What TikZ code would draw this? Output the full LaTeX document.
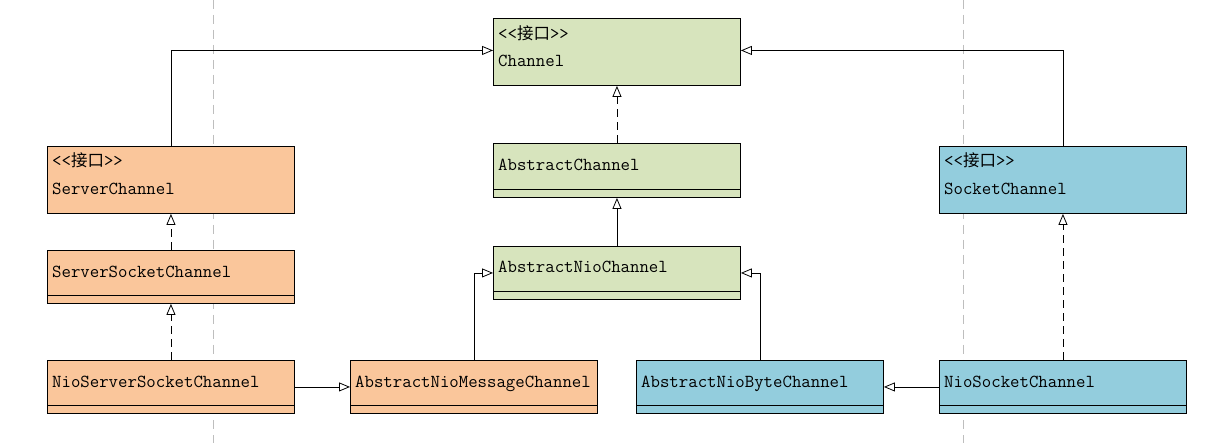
\documentclass[tikz,border=0pt]{standalone}
\usepackage{fontspec}
\newfontfamily\cjk{Noto Sans CJK SC}
\usetikzlibrary{arrows.meta,calc}

\definecolor{ifgreen}{RGB}{215,228,189}
\definecolor{ifpeach}{RGB}{250,198,155}
\definecolor{ifblue}{RGB}{147,205,221}
\definecolor{guidegray}{RGB}{190,190,190}

\newcommand{\stereo}{{<}{<}{\cjk\fontsize{16.5}{16.5}\selectfont 接口}{>}{>}}

\tikzset{
  cls/.style={draw=black, line width=0.9pt, rectangle, inner sep=0pt,
              anchor=north west, minimum width=247pt},
  lbl/.style={anchor=base west, inner sep=0pt,
              font=\ttfamily\fontsize{18.3}{18.3}\selectfont},
  inherit/.style={-{Triangle[open,length=11pt,width=9pt]}, line width=0.8pt},
  realize/.style={inherit, dash pattern=on 8pt off 5pt},
  guide/.style={draw=guidegray, dash pattern=on 9pt off 6pt, line width=0.8pt}
}

\begin{document}
\begin{tikzpicture}[x=1pt, y=-1pt]
  \useasboundingbox (0,0) rectangle (1215,443);
  \fill[white] (0,0) rectangle (1215,443);

  % vertical guide lines behind the boxes
  \coordinate (gAtop) at (213,0);
  \coordinate (gAbot) at (213,443);
  \coordinate (gBtop) at (963,0);
  \coordinate (gBbot) at (963,443);
  \draw[guide] (gAtop) -- (gAbot);
  \draw[guide] (gBtop) -- (gBbot);

  % boxes
  \node[cls, fill=ifgreen, minimum height=67pt] (chan)   at (493,18)  {};
  \node[cls, fill=ifgreen, minimum height=54pt] (absch)  at (493,143) {};
  \node[cls, fill=ifgreen, minimum height=53pt] (absnio) at (493,246) {};

  \node[cls, fill=ifpeach, minimum height=67pt] (srvch)  at (47,146)  {};
  \node[cls, fill=ifpeach, minimum height=53pt] (ssch)   at (47,250)  {};
  \node[cls, fill=ifpeach, minimum height=53pt] (nssch)  at (47,360)  {};
  \node[cls, fill=ifpeach, minimum height=53pt] (anmc)   at (350,360) {};

  \node[cls, fill=ifblue,  minimum height=53pt] (anbc)   at (636,360) {};
  \node[cls, fill=ifblue,  minimum height=53pt] (nsc)    at (939,360) {};
  \node[cls, fill=ifblue,  minimum height=67pt] (sockch) at (939,146) {};

  % compartment separators
  \foreach \n in {absch,absnio,ssch,nssch,anmc,anbc,nsc}
    \draw[line width=0.9pt] ($(\n.south west)+(0,-8)$) -- ($(\n.south east)+(0,-8)$);

  % labels
  \node[lbl] (tchanS)  at ($(chan.north west)+(5,22)$)   {\stereo};
  \node[lbl] (tchan)   at ($(chan.north west)+(5,49)$)   {Channel};
  \node[lbl] (tabsch)  at ($(absch.north west)+(5,28)$)  {AbstractChannel};
  \node[lbl] (tabsnio) at ($(absnio.north west)+(5,27)$) {AbstractNioChannel};
  \node[lbl] (tsrvS)   at ($(srvch.north west)+(5,21)$)  {\stereo};
  \node[lbl] (tsrv)    at ($(srvch.north west)+(5,49)$)  {ServerChannel};
  \node[lbl] (tssch)   at ($(ssch.north west)+(5,28)$)   {ServerSocketChannel};
  \node[lbl] (tnssch)  at ($(nssch.north west)+(5,27)$)  {NioServerSocketChannel};
  \node[lbl] (tanmc)   at ($(anmc.north west)+(5,27)$)   {AbstractNioMessageChannel};
  \node[lbl] (tanbc)   at ($(anbc.north west)+(5,27)$)   {AbstractNioByteChannel};
  \node[lbl] (tnsc)    at ($(nsc.north west)+(5,27)$)    {NioSocketChannel};
  \node[lbl] (tsockS)  at ($(sockch.north west)+(5,21)$) {\stereo};
  \node[lbl] (tsock)   at ($(sockch.north west)+(5,49)$) {SocketChannel};

  % generalisation and realisation connectors
  \draw[inherit] (srvch.north) |- ($(chan.west)+(0,-1.5)$);
  \draw[inherit] (sockch.north) |- ($(chan.east)+(0,-1.5)$);
  \draw[realize] (absch.north) -- (chan.south);
  \draw[inherit] (absnio.north) -- (absch.south);
  \draw[realize] (ssch.north) -- (srvch.south);
  \draw[realize] (nssch.north) -- (ssch.south);
  \draw[inherit] (nssch.east) -- (anmc.west);
  \draw[inherit] (anmc.north) |- (absnio.west);
  \draw[inherit] (anbc.north) |- (absnio.east);
  \draw[inherit] (nsc.west) -- (anbc.east);
  \draw[realize] (nsc.north) -- (sockch.south);
\end{tikzpicture}
\end{document}
